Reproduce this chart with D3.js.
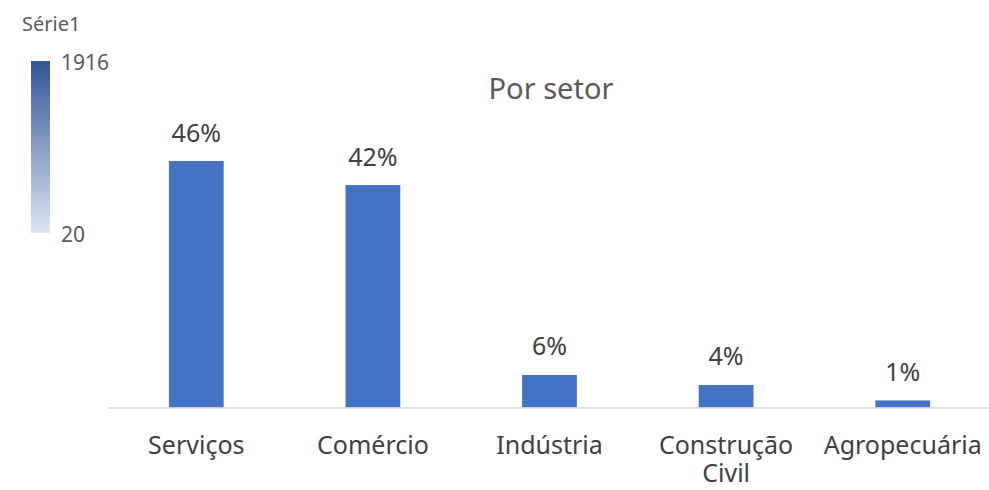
<!DOCTYPE html>
<meta charset="utf-8">
<head>
    <script src="https://d3js.org/d3.v7.min.js"></script>
    <style>
        body { margin: 0; background: #fff; }
        text { font-family: "Noto Sans", "Open Sans", sans-serif; }
    </style>
</head>
<body>
    <div id="graph"></div>
<script>
    // data
    var categories = ["Serviços", "Comércio", "Indústria", "Construção Civil", "Agropecuária"];
    var values = [1916, 1729, 253, 175, 55];
    var legend_range = [20, 1916];
    var series_name = "Série1";
    var chart_title = "Por setor";

    var width = 989, height = 490;
    var total = d3.sum(values);

    var svg = d3.select("#graph")
      .append("svg")
        .attr("width", width)
        .attr("height", height);

    // scales
    var x = d3.scaleBand()
        .domain(categories)
        .range([108, 991])
        .paddingInner(0.69)
        .paddingOuter(0.345);

    var y = d3.scaleLinear()
        .domain([0, 1916])
        .range([407.5, 161]);

    // title
    svg.append("text")
        .attr("x", 551)
        .attr("y", 99)
        .attr("text-anchor", "middle")
        .style("font-size", "29px")
        .style("fill", "#595959")
        .text(chart_title);

    // bars
    svg.selectAll("rect.bar")
        .data(values)
        .enter()
        .append("rect")
        .attr("class", "bar")
        .attr("x", function(d, i) { return x(categories[i]); })
        .attr("y", function(d) { return y(d); })
        .attr("width", x.bandwidth())
        .attr("height", function(d) { return y(0) - y(d); })
        .style("fill", "#4472C4");

    // data labels
    svg.selectAll("text.lbl")
        .data(values)
        .enter()
        .append("text")
        .attr("class", "lbl")
        .attr("x", function(d, i) { return x(categories[i]) + x.bandwidth() / 2; })
        .attr("y", function(d) { return y(d) - 19.5; })
        .attr("text-anchor", "middle")
        .style("font-size", "25px")
        .style("fill", "#404040")
        .text(function(d) { return Math.round(d / total * 100) + "%"; });

    // x axis
    var xAxis = d3.axisBottom(x).tickSize(0).tickPadding(0);
    var gx = svg.append("g")
        .attr("transform", "translate(0," + y(0) + ")")
        .call(xAxis);
    gx.select(".domain").attr("d", "M108,0.5H989").style("stroke", "#D9D9D9").style("stroke-width", 1.5);
    gx.selectAll(".tick text").remove();
    gx.selectAll(".tick").each(function(d) {
        var words = d.split(" ");
        var t = d3.select(this).append("text")
            .attr("text-anchor", "middle")
            .style("font-size", "25px")
            .style("fill", "#404040");
        words.forEach(function(w, i) {
            t.append("tspan").attr("x", 0).attr("y", 46.5 + i * 28).text(w);
        });
    });

    // color legend
    var defs = svg.append("defs");
    var grad = defs.append("linearGradient")
        .attr("id", "leg")
        .attr("x1", 0).attr("y1", 1).attr("x2", 0).attr("y2", 0);
    grad.append("stop").attr("offset", "0%").attr("stop-color", "#DEE6F4");
    grad.append("stop").attr("offset", "100%").attr("stop-color", "#2F5597");

    var ly = d3.scaleLinear().domain(legend_range).range([233, 61]);

    svg.append("text")
        .attr("x", 22)
        .attr("y", 31)
        .style("font-size", "20px")
        .style("fill", "#595959")
        .text(series_name);

    svg.append("rect")
        .attr("x", 31)
        .attr("y", ly(legend_range[1]))
        .attr("width", 19)
        .attr("height", ly(legend_range[0]) - ly(legend_range[1]))
        .style("fill", "url(#leg)");

    svg.selectAll("text.leg")
        .data(legend_range)
        .enter()
        .append("text")
        .attr("class", "leg")
        .attr("x", 61)
        .attr("y", function(d) { return ly(d) + 9; })
        .style("font-size", "21px")
        .style("fill", "#595959")
        .text(function(d) { return d; });
</script>
</body>
